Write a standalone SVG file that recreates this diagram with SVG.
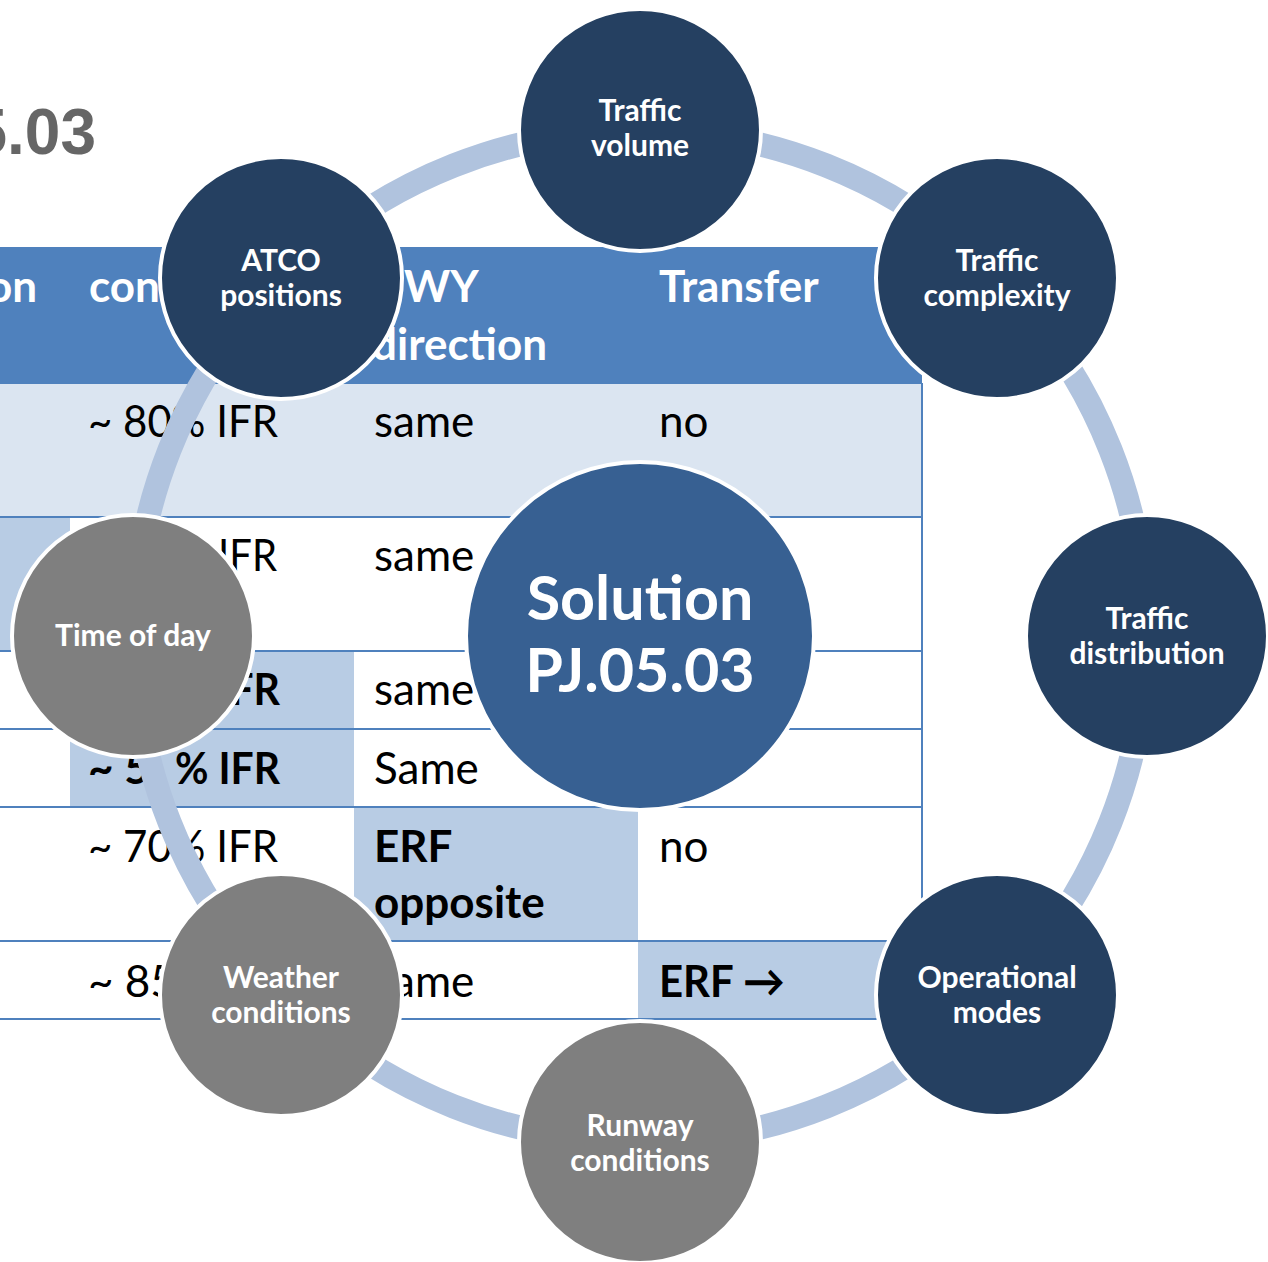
<svg xmlns="http://www.w3.org/2000/svg" width="1268" height="1262" viewBox="0 0 1268 1262">
<style>
.t{font-family:Lato,"Open Sans","Liberation Sans",sans-serif;font-size:44px;fill:#000}
.b{font-weight:bold}
.h{font-family:Lato,"Open Sans","Liberation Sans",sans-serif;font-size:44px;font-weight:bold;fill:#fff}
.ln{stroke:#4f81bd;stroke-width:2}
.lbl{font-family:Lato,"Open Sans","Liberation Sans",sans-serif;font-size:30px;font-weight:bold;fill:#fff;text-anchor:middle}
.big{font-size:61px}
.dark{fill:#254061;stroke:#fff;stroke-width:4}
.gray{fill:#7f7f7f;stroke:#fff;stroke-width:4}
.sol{fill:#376092;stroke:#fff;stroke-width:4}
</style>
<rect width="1268" height="1262" fill="#fff"/>
<g id="title">
<text x="96" y="154" text-anchor="end" font-family="Liberation Sans,Arial,sans-serif" font-size="64" font-weight="bold" fill="#666666">5.03</text>
</g>
<g id="table">
<rect x="0" y="247" width="922" height="136" fill="#4f81bd"/>
<rect x="0" y="383" width="922" height="134" fill="#dbe5f1"/>
<rect x="0" y="517" width="70" height="134" fill="#b8cce4"/>
<rect x="70" y="651" width="284" height="156" fill="#b8cce4"/>
<rect x="354" y="807" width="284" height="134" fill="#b8cce4"/>
<rect x="638" y="941" width="284" height="78" fill="#b8cce4"/>
<line class="ln" x1="0" y1="383" x2="922" y2="383"/>
<line class="ln" x1="0" y1="517" x2="922" y2="517"/>
<line class="ln" x1="0" y1="651" x2="922" y2="651"/>
<line class="ln" x1="0" y1="729" x2="922" y2="729"/>
<line class="ln" x1="0" y1="807" x2="922" y2="807"/>
<line class="ln" x1="0" y1="941" x2="922" y2="941"/>
<line class="ln" x1="0" y1="1019" x2="922" y2="1019"/>
<line class="ln" x1="922" y1="383" x2="922" y2="1019"/>
<text class="h" x="-13" y="302">on</text>
<text class="h" x="89" y="302">con</text>
<text class="h" x="404" y="302">WY</text>
<text class="h" x="372" y="360">direction</text>
<text class="h" x="659" y="302">Transfer</text>
<text class="t" x="88" y="437" textLength="190" lengthAdjust="spacingAndGlyphs">~ 80% IFR</text>
<text class="t" x="374" y="437">same</text>
<text class="t" x="659" y="437">no</text>
<text class="t" x="218" y="571" textLength="59" lengthAdjust="spacingAndGlyphs">IFR</text>
<text class="t" x="374" y="571">same</text>
<text class="t b" x="218" y="705" textLength="62" lengthAdjust="spacingAndGlyphs">IFR</text>
<text class="t" x="374" y="705">same</text>
<text class="t b" x="88" y="784">~ 5</text>
<text class="t b" x="175" y="784" textLength="105" lengthAdjust="spacingAndGlyphs">% IFR</text>
<text class="t" x="374" y="784">Same</text>
<text class="t" x="88" y="862" textLength="190" lengthAdjust="spacingAndGlyphs">~ 70% IFR</text>
<text class="t b" x="374" y="862">ERF</text>
<text class="t b" x="374" y="918">opposite</text>
<text class="t" x="659" y="862">no</text>
<text class="t" x="88" y="997">~ 85</text>
<text class="t" x="374" y="997">same</text>
<text class="t b" x="659" y="997" textLength="126" lengthAdjust="spacingAndGlyphs">ERF →</text>
</g>
<g id="connectors">
<circle cx="640" cy="636" r="506" fill="none" stroke="#b0c3de" stroke-width="24"/>
</g>
<g id="node-traffic-volume">
<circle class="dark" cx="640" cy="130" r="121"/>
<text class="lbl" x="640" y="121">Traffic</text>
<text class="lbl" x="640" y="156">volume</text>
</g>
<g id="node-traffic-complexity">
<circle class="dark" cx="997" cy="278" r="121"/>
<text class="lbl" x="997" y="271">Traffic</text>
<text class="lbl" x="997" y="306">complexity</text>
</g>
<g id="node-traffic-distribution">
<circle class="dark" cx="1147" cy="636" r="121"/>
<text class="lbl" x="1147" y="629">Traffic</text>
<text class="lbl" x="1147" y="664">distribution</text>
</g>
<g id="node-operational-modes">
<circle class="dark" cx="997" cy="995" r="121"/>
<text class="lbl" x="997" y="988">Operational</text>
<text class="lbl" x="997" y="1023">modes</text>
</g>
<g id="node-runway-conditions">
<circle class="gray" cx="640" cy="1142" r="121"/>
<text class="lbl" x="640" y="1136">Runway</text>
<text class="lbl" x="640" y="1171">conditions</text>
</g>
<g id="node-weather-conditions">
<circle class="gray" cx="281" cy="995" r="121"/>
<text class="lbl" x="281" y="988">Weather</text>
<text class="lbl" x="281" y="1023">conditions</text>
</g>
<g id="node-time-of-day">
<circle class="gray" cx="133" cy="636" r="121"/>
<text class="lbl" x="133" y="646">Time of day</text>
</g>
<g id="node-atco-positions">
<circle class="dark" cx="281" cy="278" r="121"/>
<text class="lbl" x="281" y="271">ATCO</text>
<text class="lbl" x="281" y="306">positions</text>
</g>
<g id="node-solution">
<circle class="sol" cx="640" cy="636" r="174"/>
<text class="lbl big" x="640" y="620">Solution</text>
<text class="lbl big" x="640" y="692">PJ.05.03</text>
</g>
</svg>
